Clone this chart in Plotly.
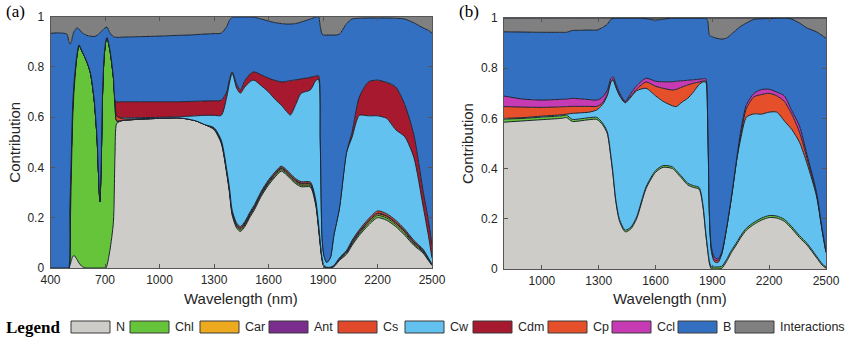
import plotly.graph_objects as go

# ---------------------------------------------------------------- panel (a)
wl_a = [400, 450, 490, 500, 507, 515, 522, 530, 545, 557,
        575, 600, 620, 640, 656, 664, 672, 680, 686, 695,
        705, 711, 727, 746, 755, 764, 780, 800, 900, 1000,
        1100, 1150, 1200, 1250, 1300, 1340, 1370, 1385, 1400, 1425,
        1445, 1470, 1500, 1520, 1560, 1600, 1640, 1670, 1700, 1720,
        1750, 1780, 1830, 1860, 1875, 1885, 1895, 1905, 1920, 1940,
        1960, 1990, 2030, 2060, 2100, 2150, 2200, 2250, 2300, 2350,
        2400, 2450, 2480, 2500]

n_a = [0, 0, 0, 0, 0.01, 0.03, 0.045, 0.05, 0.035, 0.02,
       0.005, 0, 0, 0, 0, 0, 0, 0, 0, 0,
       0, 0.01, 0.07, 0.18, 0.45, 0.575, 0.582, 0.587, 0.592, 0.595,
       0.597, 0.593, 0.585, 0.57, 0.55, 0.495, 0.375, 0.30, 0.21, 0.158,
       0.145, 0.165, 0.205, 0.228, 0.285, 0.33, 0.365, 0.385, 0.37, 0.355,
       0.335, 0.323, 0.322, 0.25, 0.16, 0.09, 0.03, 0.005, 0, 0,
       0.005, 0.03, 0.055, 0.09, 0.13, 0.17, 0.2, 0.19, 0.165, 0.13,
       0.09, 0.06, 0.03, 0.01]

chl_a = [0, 0, 0, 0, 0.11, 0.35, 0.545, 0.66, 0.80, 0.862,
         0.855, 0.82, 0.775, 0.672, 0.52, 0.38, 0.264, 0.45, 0.68, 0.84,
         0.905, 0.906, 0.797, 0.58, 0.208, 0.01, 0.003, 0, 0, 0,
         0, 0, 0, 0, 0.003, 0.004, 0.005, 0.006, 0.006, 0.006,
         0.006, 0.006, 0.006, 0.006, 0.006, 0.006, 0.006, 0.006, 0.006, 0.006,
         0.006, 0.006, 0.006, 0.006, 0.006, 0.005, 0.003, 0.002, 0.001, 0.001,
         0.002, 0.003, 0.005, 0.006, 0.007, 0.008, 0.009, 0.009, 0.008, 0.008,
         0.006, 0.005, 0.003, 0.002]

car_a = [0, 0, 0, 0, 0.12, 0.08, 0.05, 0.03, 0.01, 0.005,
         0, 0, 0, 0, 0, 0, 0, 0, 0, 0,
         0, 0, 0, 0, 0, 0, 0, 0, 0, 0,
         0, 0, 0, 0, 0.002, 0.003, 0.004, 0.004, 0.005, 0.005,
         0.005, 0.005, 0.005, 0.005, 0.005, 0.005, 0.005, 0.005, 0.005, 0.005,
         0.005, 0.005, 0.005, 0.005, 0.005, 0.004, 0.003, 0.001, 0.001, 0.001,
         0.001, 0.003, 0.004, 0.005, 0.005, 0.006, 0.006, 0.006, 0.006, 0.006,
         0.005, 0.004, 0.003, 0.001]

ant_a = [0, 0, 0, 0, 0, 0, 0, 0, 0, 0,
         0, 0, 0, 0, 0, 0, 0, 0, 0, 0,
         0, 0, 0, 0, 0, 0, 0, 0, 0, 0,
         0, 0, 0, 0, 0, 0.002, 0.002, 0.002, 0.003, 0.003,
         0.003, 0.003, 0.003, 0.003, 0.003, 0.003, 0.003, 0.003, 0.003, 0.003,
         0.003, 0.003, 0.003, 0.003, 0.002, 0.002, 0.001, 0, 0, 0,
         0, 0.001, 0.002, 0.003, 0.003, 0.003, 0.003, 0.003, 0.003, 0.003,
         0.003, 0.002, 0.001, 0]

cs_a = [0, 0, 0, 0, 0, 0, 0, 0, 0, 0,
        0, 0, 0, 0, 0, 0, 0, 0, 0, 0,
        0, 0, 0, 0, 0.01, 0.02, 0.013, 0.006, 0.002, 0,
        0, 0, 0, 0, 0.003, 0.004, 0.005, 0.006, 0.006, 0.006,
        0.006, 0.006, 0.006, 0.006, 0.006, 0.006, 0.006, 0.006, 0.006, 0.006,
        0.006, 0.006, 0.006, 0.006, 0.005, 0.004, 0.003, 0.002, 0.001, 0.001,
        0.002, 0.003, 0.004, 0.006, 0.007, 0.008, 0.009, 0.008, 0.008, 0.007,
        0.006, 0.004, 0.003, 0.002]

cw_a = [0, 0, 0, 0, 0, 0, 0, 0, 0, 0,
        0, 0, 0, 0, 0, 0, 0, 0, 0, 0,
        0, 0, 0, 0, 0, 0, 0, 0.004, 0.004, 0.004,
        0.004, 0.01, 0.02, 0.037, 0.049, 0.099, 0.289, 0.417, 0.545, 0.537,
        0.53, 0.535, 0.517, 0.499, 0.42, 0.35, 0.283, 0.243, 0.232, 0.233,
        0.295, 0.352, 0.366, 0.475, 0.572, 0.395, 0.08, 0.04, 0.019, 0.037,
        0.12, 0.195, 0.39, 0.41, 0.455, 0.41, 0.378, 0.379, 0.36, 0.368,
        0.33, 0.175, 0.09, 0.025]

cdm_a = [0, 0, 0, 0, 0, 0, 0, 0, 0, 0,
         0, 0, 0, 0, 0, 0, 0, 0, 0, 0,
         0, 0, 0, 0, 0, 0.055, 0.063, 0.064, 0.063, 0.062,
         0.06, 0.059, 0.058, 0.057, 0.058, 0.06, 0.02, 0.015, 0.005, 0.015,
         0.013, 0.025, 0.03, 0.033, 0.043, 0.055, 0.077, 0.092, 0.12, 0.137,
         0.098, 0.057, 0.05, 0.018, 0.015, 0.005, 0, 0, 0, 0,
         0, 0, 0, 0.02, 0.073, 0.135, 0.142, 0.143, 0.17, 0.128,
         0.09, 0.06, 0.06, 0.05]

b_a = [0.933, 0.935, 0.93, 0.905, 0.65, 0.44, 0.285, 0.2, 0.11, 0.063,
       0.075, 0.105, 0.147, 0.248, 0.405, 0.55, 0.671, 0.49, 0.265, 0.112,
       0.052, 0.042, 0.068, 0.16, 0.25, 0.257, 0.256, 0.257, 0.259, 0.261,
       0.264, 0.264, 0.265, 0.266, 0.267, 0.267, 0.26, 0.235, 0.217, 0.268,
       0.29, 0.253, 0.226, 0.217, 0.222, 0.227, 0.23, 0.232, 0.228, 0.225,
       0.224, 0.226, 0.232, 0.234, 0.235, 0.455, 0.81, 0.876, 0.904, 0.886,
       0.796, 0.695, 0.512, 0.45, 0.313, 0.254, 0.247, 0.256, 0.273, 0.34,
       0.445, 0.645, 0.755, 0.844]

inter_a = [0.067, 0.065, 0.07, 0.095, 0.11, 0.10, 0.075, 0.06, 0.045, 0.05,
           0.065, 0.075, 0.078, 0.08, 0.075, 0.07, 0.065, 0.06, 0.055, 0.048,
           0.043, 0.042, 0.065, 0.08, 0.082, 0.083, 0.083, 0.082, 0.08, 0.078,
           0.075, 0.074, 0.072, 0.07, 0.068, 0.066, 0.04, 0.015, 0.003, 0.002,
           0.002, 0.002, 0.002, 0.003, 0.01, 0.018, 0.025, 0.028, 0.03, 0.03,
           0.028, 0.022, 0.01, 0.003, 0, 0.04, 0.07, 0.074, 0.074, 0.074,
           0.074, 0.07, 0.028, 0.01, 0.007, 0.006, 0.006, 0.006, 0.007, 0.01,
           0.025, 0.045, 0.055, 0.066]

# ---------------------------------------------------------------- panel (b)
wl_b = [800, 900, 1000, 1100, 1130, 1160, 1200, 1250, 1290, 1320,
        1345, 1365, 1376, 1390, 1410, 1440, 1470, 1500, 1550, 1600,
        1640, 1690, 1710, 1740, 1770, 1800, 1830, 1850, 1865, 1875,
        1885, 1895, 1910, 1930, 1950, 1975, 2000, 2030, 2050, 2080,
        2120, 2160, 2200, 2240, 2280, 2320, 2360, 2400, 2450, 2480, 2500]

n_b = [0.585, 0.59, 0.595, 0.60, 0.603, 0.588, 0.59, 0.595, 0.596, 0.575,
       0.54, 0.44, 0.37, 0.27, 0.19, 0.148, 0.16, 0.2, 0.32, 0.385,
       0.405, 0.40, 0.385, 0.36, 0.335, 0.325, 0.318, 0.25, 0.14, 0.075,
       0.02, 0, 0, 0, 0.003, 0.03, 0.065, 0.1, 0.125, 0.155,
       0.178, 0.195, 0.205, 0.203, 0.19, 0.16, 0.125, 0.095, 0.045, 0.015, 0.003]

chl_b = [0.012, 0.01, 0.01, 0.01, 0.01, 0.008, 0.008, 0.008, 0.008, 0.007,
         0.007, 0.007, 0.007, 0.007, 0.007, 0.007, 0.007, 0.007, 0.007, 0.007,
         0.007, 0.007, 0.007, 0.007, 0.007, 0.007, 0.007, 0.007, 0.007, 0.007,
         0.008, 0.008, 0.008, 0.008, 0.008, 0.008, 0.008, 0.008, 0.008, 0.008,
         0.008, 0.008, 0.008, 0.008, 0.008, 0.008, 0.008, 0.007, 0.006, 0.005, 0.005]

cw_b = [0.003, 0.003, 0.004, 0.004, 0.004, 0.024, 0.024, 0.022, 0.03, 0.073,
        0.143, 0.298, 0.375, 0.448, 0.493, 0.507, 0.518, 0.503, 0.393, 0.298,
        0.256, 0.243, 0.255, 0.298, 0.338, 0.373, 0.41, 0.488, 0.598, 0.518,
        0.172, 0.062, 0.022, 0.018, 0.049, 0.122, 0.207, 0.332, 0.387, 0.442,
        0.432, 0.414, 0.412, 0.414, 0.392, 0.387, 0.372, 0.318, 0.239, 0.13, 0.057]

cp_b = [0.047, 0.042, 0.035, 0.032, 0.03, 0.028, 0.026, 0.023, 0.014, 0.007,
        0.005, 0.004, 0.004, 0.004, 0.004, 0.003, 0.005, 0.006, 0.025, 0.038,
        0.052, 0.063, 0.069, 0.06, 0.053, 0.035, 0.01, 0.004, 0.004, 0.003,
        0.004, 0.008, 0.008, 0.007, 0.004, 0.002, 0.002, 0.004, 0.015, 0.035,
        0.068, 0.078, 0.075, 0.065, 0.078, 0.06, 0.04, 0.02, 0.007, 0.004, 0.003]

ccl_b = [0.042, 0.032, 0.029, 0.03, 0.03, 0.032, 0.03, 0.027, 0.025, 0.023,
         0.017, 0.011, 0.01, 0.009, 0.008, 0.003, 0.01, 0.014, 0.015, 0.02,
         0.026, 0.033, 0.032, 0.025, 0.019, 0.014, 0.011, 0.009, 0.009, 0.007,
         0.004, 0.008, 0.01, 0.007, 0.004, 0.002, 0.002, 0.004, 0.015, 0.015,
         0.014, 0.02, 0.016, 0.015, 0.022, 0.015, 0.025, 0.015, 0.008, 0.004, 0.003]

b_b = [0.256, 0.267, 0.27, 0.267, 0.266, 0.27, 0.273, 0.277, 0.279, 0.277,
       0.263, 0.235, 0.232, 0.262, 0.298, 0.332, 0.30, 0.27, 0.237, 0.244,
       0.249, 0.254, 0.252, 0.25, 0.248, 0.246, 0.244, 0.242, 0.242, 0.38,
       0.722, 0.841, 0.874, 0.878, 0.848, 0.756, 0.651, 0.507, 0.417, 0.325,
       0.295, 0.282, 0.282, 0.294, 0.31, 0.365, 0.41, 0.505, 0.64, 0.772, 0.849]

inter_b = [0.055, 0.056, 0.057, 0.057, 0.057, 0.05, 0.049, 0.048, 0.048, 0.038,
           0.025, 0.005, 0.002, 0, 0, 0, 0, 0, 0.003, 0.008,
           0.005, 0, 0, 0, 0, 0, 0, 0, 0, 0.01,
           0.07, 0.073, 0.078, 0.082, 0.084, 0.08, 0.065, 0.045, 0.033, 0.02,
           0.005, 0.003, 0.002, 0.001, 0, 0.005, 0.02, 0.04, 0.055, 0.07, 0.08]

# ---------------------------------------------------------------- styling
colors = {
    "N": "#CDCCC9", "Chl": "#66C43A", "Car": "#EDAA1F", "Ant": "#7B2D8E",
    "Cs": "#E2492A", "Cw": "#63C1EF", "Cdm": "#A6192E", "Cp": "#E5502B",
    "Ccl": "#C63AB3", "B": "#3470C2", "Interactions": "#808080",
}
legend_order = ["N", "Chl", "Car", "Ant", "Cs", "Cw", "Cdm", "Cp", "Ccl", "B", "Interactions"]

panel_a = [("N", n_a), ("Chl", chl_a), ("Car", car_a), ("Ant", ant_a), ("Cs", cs_a),
           ("Cw", cw_a), ("Cdm", cdm_a), ("B", b_a), ("Interactions", inter_a)]
panel_b = [("N", n_b), ("Chl", chl_b), ("Cw", cw_b), ("Cp", cp_b), ("Ccl", ccl_b),
           ("B", b_b), ("Interactions", inter_b)]

W, H = 850, 338
EDGE = "#1b2430"
SANS = "Liberation Sans, Arial, sans-serif"
SERIF = "Liberation Serif, Times New Roman, serif"

fig = go.Figure()


def add_stack(x, layers, xa, ya, group):
    for name, vals in layers:
        fig.add_trace(go.Scatter(
            x=x, y=vals, name=name, xaxis=xa, yaxis=ya, stackgroup=group,
            mode="lines", line=dict(color=EDGE, width=1, shape="spline", smoothing=0.7),
            fillcolor=colors[name], showlegend=False, hoverinfo="skip",
        ))


add_stack(wl_a, panel_a, "x", "y", "a")
add_stack(wl_b, panel_b, "x2", "y2", "b")


def px_x(p):
    return p / W


def px_y(p):
    return 1 - p / H


axis_common = dict(
    showline=True, linecolor="#555555", linewidth=1, mirror="allticks",
    ticks="inside", ticklen=4, tickcolor="#555555", tickwidth=1,
    showgrid=False, zeroline=False,
    tickfont=dict(family=SANS, size=12, color="#262626"),
)
xaxis_common = dict(axis_common, ticklabelstandoff=1)
yaxis_common = dict(axis_common, ticklabelstandoff=3,
                    title=dict(text="Contribution", standoff=3,
                               font=dict(family=SANS, size=15, color="#262626")))
yticks = [0, 0.2, 0.4, 0.6, 0.8, 1]
yticktext = ["0", "0.2", "0.4", "0.6", "0.8", "1"]

fig.update_layout(
    width=W, height=H, margin=dict(l=0, r=0, t=0, b=0, autoexpand=False),
    paper_bgcolor="white", plot_bgcolor="white",
    xaxis=dict(domain=[px_x(50.5), px_x(432)], range=[400, 2500],
               tickvals=[400, 700, 1000, 1300, 1600, 1900, 2200, 2500], anchor="y", **xaxis_common),
    yaxis=dict(domain=[px_y(268), px_y(16.5)], range=[0, 1], tickvals=yticks,
               ticktext=yticktext, anchor="x", **yaxis_common),
    xaxis2=dict(domain=[px_x(504), px_x(826)], range=[800, 2500],
                tickvals=[1000, 1300, 1600, 1900, 2200, 2500], anchor="y2", **xaxis_common),
    yaxis2=dict(domain=[px_y(269), px_y(18)], range=[0, 1], tickvals=yticks,
                ticktext=yticktext, anchor="x2", **yaxis_common),
)

annotations = [
    dict(text="(a)", x=px_x(4), y=px_y(12), xanchor="left", yanchor="middle",
         font=dict(family=SERIF, size=17, color="black")),
    dict(text="(b)", x=px_x(457), y=px_y(12), xanchor="left", yanchor="middle",
         font=dict(family=SERIF, size=17, color="black")),
    dict(text="Wavelength (nm)", x=px_x(241), y=px_y(298), xanchor="center", yanchor="middle",
         font=dict(family=SANS, size=15, color="#262626")),
    dict(text="Wavelength (nm)", x=px_x(670), y=px_y(298), xanchor="center", yanchor="middle",
         font=dict(family=SANS, size=15, color="#262626")),
    dict(text="<b>Legend</b>", x=px_x(4), y=px_y(327), xanchor="left", yanchor="middle",
         font=dict(family=SERIF, size=17, color="black")),
]

# manual legend row: swatch left edges (px)
swatch_left = [71, 130, 200, 269, 338, 405, 473, 548, 612, 678, 735]
swatch_w = 39
shapes = []
for name, x0 in zip(legend_order, swatch_left):
    shapes.append(dict(type="rect", xref="paper", yref="paper",
                       x0=px_x(x0), x1=px_x(x0 + swatch_w), y0=px_y(333), y1=px_y(321),
                       fillcolor=colors[name], line=dict(color="#3a3a3a", width=1)))
    annotations.append(dict(text=name, x=px_x(x0 + swatch_w + 4), y=px_y(327),
                            xanchor="left", yanchor="middle",
                            font=dict(family=SANS, size=12.5, color="#262626")))

for a in annotations:
    a.update(xref="paper", yref="paper", showarrow=False)

fig.update_layout(annotations=annotations, shapes=shapes)
fig.write_html("out.html")
